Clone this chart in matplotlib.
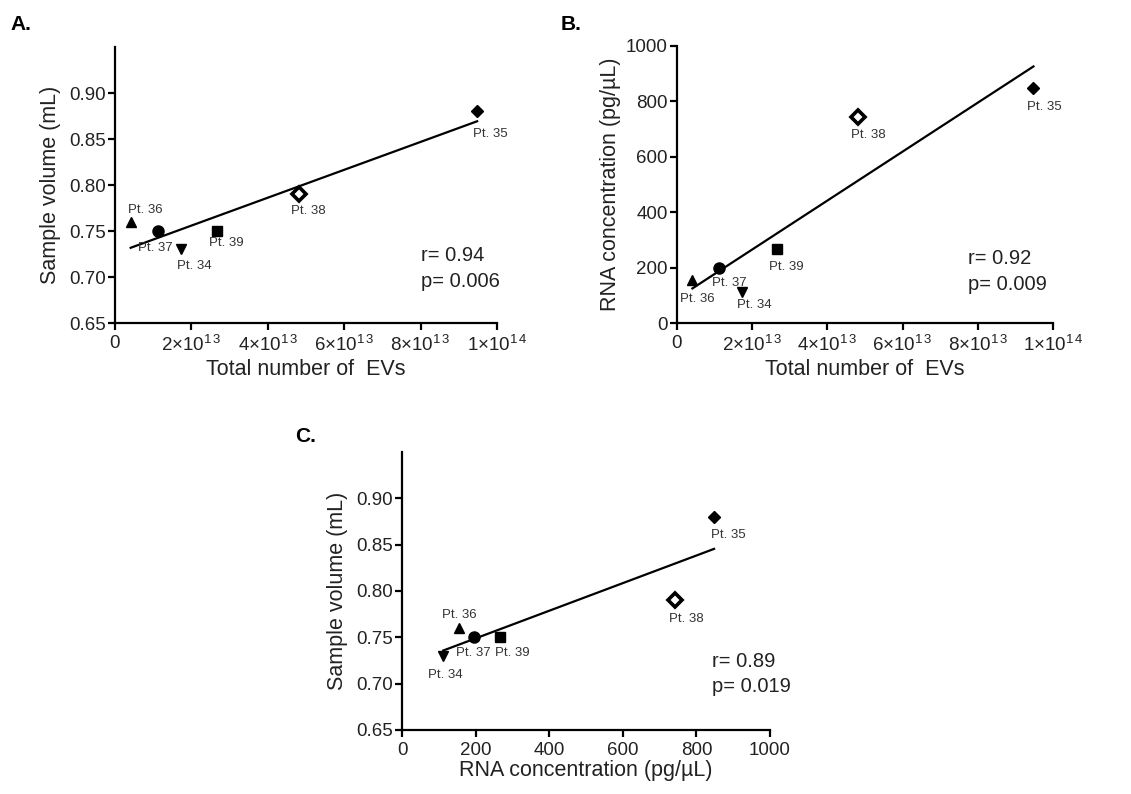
import numpy as np
import matplotlib
matplotlib.use("Agg")
import matplotlib.pyplot as plt

plt.rcParams['font.family'] = ['Liberation Sans', 'DejaVu Sans']
plt.rcParams['mathtext.fontset'] = 'custom'
plt.rcParams['mathtext.rm'] = 'Liberation Sans'
plt.rcParams['mathtext.it'] = 'Liberation Sans:italic'
plt.rcParams['mathtext.bf'] = 'Liberation Sans:bold'

# ---------------- data ----------------
patients = ['Pt. 34', 'Pt. 35', 'Pt. 36', 'Pt. 37', 'Pt. 38', 'Pt. 39']
ev_total = [1.73e13, 9.48e13, 0.41e13, 1.13e13, 4.82e13, 2.66e13]
sample_volume = [0.73, 0.88, 0.76, 0.75, 0.79, 0.75]
rna_conc = [112, 848, 154, 197, 742, 266]

stats_A = ['r= 0.94', 'p= 0.006']
stats_B = ['r= 0.92', 'p= 0.009']
stats_C = ['r= 0.89', 'p= 0.019']

ev_ticks = [0, 2e13, 4e13, 6e13, 8e13, 1e14]
ev_ticklabels = ['0', r'$2{\times}10^{1\,3}$', r'$4{\times}10^{1\,3}$',
                 r'$6{\times}10^{1\,3}$', r'$8{\times}10^{1\,3}$', r'$1{\times}10^{1\,4}$']
vol_ticks = [0.65, 0.70, 0.75, 0.80, 0.85, 0.90]
rna_ticks = [0, 200, 400, 600, 800, 1000]

# ---------------- styles ----------------
marker_styles = {
    'Pt. 34': dict(marker='v', ms=7.5, mfc='black', mec='black'),
    'Pt. 35': dict(marker='D', ms=6, mfc='black', mec='black'),
    'Pt. 36': dict(marker='^', ms=7.5, mfc='black', mec='black'),
    'Pt. 37': dict(marker='o', ms=8, mfc='black', mec='black'),
    'Pt. 38': dict(marker='D', ms=7, mfc='white', mec='black', mew=2.6),
    'Pt. 39': dict(marker='s', ms=7.5, mfc='black', mec='black'),
}

# label offsets in pixels: (dx to left edge, dy of centre, +down)
offs_A = {'Pt. 34': (-4, 17), 'Pt. 35': (-4, 23), 'Pt. 36': (-3, -12),
          'Pt. 37': (-20, 17), 'Pt. 38': (-8, 16.5), 'Pt. 39': (-8, 12.5)}
offs_B = {'Pt. 34': (-5, 13), 'Pt. 35': (-6, 19), 'Pt. 36': (-12, 18.5),
          'Pt. 37': (-7, 15), 'Pt. 38': (-7, 18), 'Pt. 39': (-8, 18)}
offs_C = {'Pt. 34': (-15, 19.5), 'Pt. 35': (-3, 18), 'Pt. 36': (-17, -13),
          'Pt. 37': (-18, 16), 'Pt. 38': (-6, 19), 'Pt. 39': (-5, 16)}

W, H = 1131, 794
fig = plt.figure(figsize=(W / 100, H / 100), dpi=100)


def px_axes(left, bottom, right, top):
    return fig.add_axes([left / W, 1 - bottom / H, (right - left) / W, (bottom - top) / H])


def style(ax):
    for s in ['top', 'right']:
        ax.spines[s].set_visible(False)
    for s in ['left', 'bottom']:
        ax.spines[s].set_linewidth(1.6)
    ax.tick_params(direction='out', length=5, width=1.6, labelsize=13.5,
                   colors='black', labelcolor='#222222')
    ax.tick_params(axis='x', pad=3.5)
    ax.tick_params(axis='y', pad=1.5)


def draw(ax, x, y, offs, stats, sx, sy_r, sy_p):
    x = np.asarray(x, float)
    y = np.asarray(y, float)
    m, b = np.polyfit(x, y, 1)
    xs = np.array([x.min(), x.max()])
    ax.plot(xs, m * xs + b, color='black', lw=1.6, zorder=2, clip_on=False)
    for i, p in enumerate(patients):
        ax.plot(x[i], y[i], linestyle='none', zorder=3, clip_on=False, **marker_styles[p])
        dx, dy = offs[p]
        ax.annotate(p, (x[i], y[i]), xytext=(dx, -dy), textcoords='offset pixels',
                    ha='left', va='center', fontsize=9.5, color='#333333')
    ax.text(sx, sy_r, stats[0], transform=ax.transAxes,
            fontsize=14.5, ha='left', va='center', color='#222222')
    ax.text(sx, sy_p, stats[1], transform=ax.transAxes,
            fontsize=14.5, ha='left', va='center', color='#222222')


# Panel A
axA = px_axes(115, 323, 497, 47)
style(axA)
draw(axA, ev_total, sample_volume, offs_A, stats_A, 0.80, 0.246, 0.152)
axA.set_xlim(0, 1e14)
axA.set_ylim(0.65, 0.95)
axA.set_xticks(ev_ticks)
axA.set_xticklabels(ev_ticklabels)
axA.set_yticks(vol_ticks)
axA.set_yticklabels([f'{v:.2f}' for v in vol_ticks])
axA.set_xlabel('Total number of  EVs', fontsize=15.5, color='#222222', labelpad=3)
axA.set_ylabel('Sample volume (mL)', fontsize=15.5, color='#222222', labelpad=6)

# Panel B
axB = px_axes(677, 323, 1053, 46)
style(axB)
draw(axB, ev_total, rna_conc, offs_B, stats_B, 0.774, 0.234, 0.140)
axB.set_xlim(0, 1e14)
axB.set_ylim(0, 1000)
axB.set_xticks(ev_ticks)
axB.set_xticklabels(ev_ticklabels)
axB.set_yticks(rna_ticks)
axB.set_xlabel('Total number of  EVs', fontsize=15.5, color='#222222', labelpad=3)
axB.set_ylabel('RNA concentration (pg/\u00b5L)', fontsize=15.5, color='#222222', labelpad=4)

# Panel C
axC = px_axes(402, 730, 770, 452)
style(axC)
draw(axC, rna_conc, sample_volume, offs_C, stats_C, 0.842, 0.246, 0.156)
axC.set_xlim(0, 1000)
axC.set_ylim(0.65, 0.95)
axC.set_xticks(rna_ticks)
axC.set_yticks(vol_ticks)
axC.set_yticklabels([f'{v:.2f}' for v in vol_ticks])
axC.set_xlabel('RNA concentration (pg/\u00b5L)', fontsize=15.5, color='#222222', labelpad=1)
axC.set_ylabel('Sample volume (mL)', fontsize=15.5, color='#222222', labelpad=6)

# Panel letters
fig.text(10 / W, 1 - 25 / H, 'A.', fontsize=15, fontweight='bold', va='center', ha='left')
fig.text(561 / W, 1 - 24 / H, 'B.', fontsize=15, fontweight='bold', va='center', ha='left')
fig.text(295 / W, 1 - 436 / H, 'C.', fontsize=15, fontweight='bold', va='center', ha='left')

fig.savefig('out.png', dpi=100, facecolor='white')
